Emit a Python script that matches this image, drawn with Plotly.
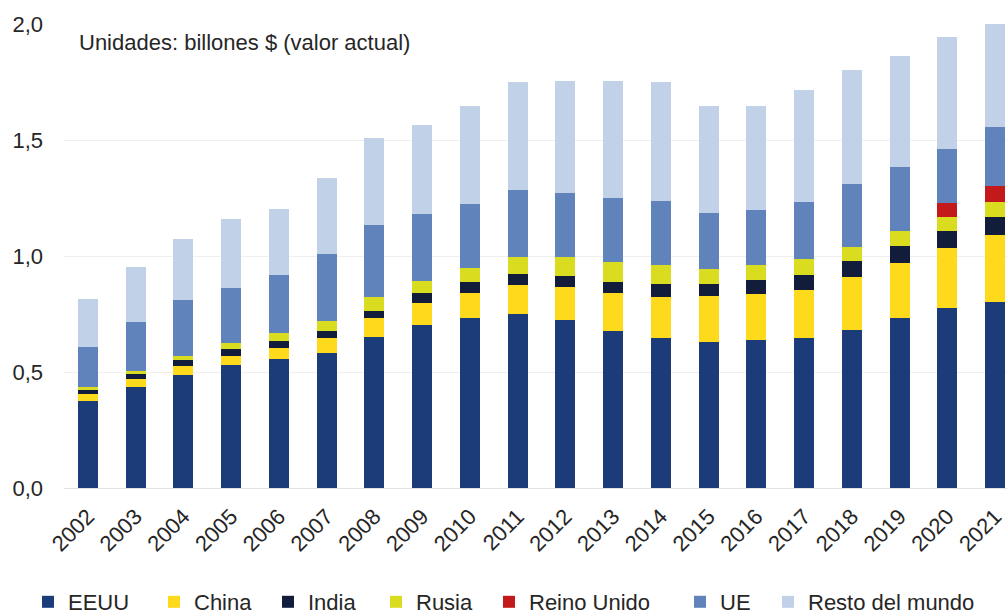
import plotly.graph_objects as go

years = [str(y) for y in range(2002, 2022)]

eeuu = [0.375, 0.437, 0.488, 0.529, 0.556, 0.583, 0.652, 0.703, 0.734, 0.749,
        0.723, 0.678, 0.645, 0.631, 0.638, 0.645, 0.680, 0.731, 0.776, 0.800]
china = [0.029, 0.032, 0.038, 0.041, 0.049, 0.064, 0.079, 0.096, 0.105, 0.125,
         0.143, 0.161, 0.180, 0.195, 0.197, 0.208, 0.231, 0.240, 0.257, 0.292]
india = [0.018, 0.021, 0.024, 0.028, 0.027, 0.031, 0.033, 0.040, 0.048, 0.048,
         0.048, 0.048, 0.054, 0.055, 0.060, 0.066, 0.067, 0.073, 0.075, 0.077]
rusia = [0.013, 0.014, 0.019, 0.026, 0.035, 0.042, 0.059, 0.053, 0.060, 0.072,
         0.083, 0.088, 0.084, 0.064, 0.066, 0.068, 0.062, 0.065, 0.061, 0.065]
reino_unido = [0, 0, 0, 0, 0, 0, 0, 0, 0, 0,
               0, 0, 0, 0, 0, 0, 0, 0, 0.061, 0.069]
ue = [0.173, 0.210, 0.241, 0.238, 0.252, 0.287, 0.311, 0.290, 0.278, 0.290,
      0.273, 0.274, 0.275, 0.239, 0.239, 0.247, 0.272, 0.275, 0.230, 0.255]
resto = [0.207, 0.237, 0.263, 0.296, 0.285, 0.328, 0.375, 0.381, 0.420, 0.465,
         0.486, 0.504, 0.513, 0.463, 0.447, 0.482, 0.491, 0.477, 0.484, 0.441]

series = [
    ("EEUU", eeuu, "#1b3b79"),
    ("China", china, "#ffd91c"),
    ("India", india, "#121d3b"),
    ("Rusia", rusia, "#d9dc1f"),
    ("Reino Unido", reino_unido, "#c4191b"),
    ("UE", ue, "#5f83ba"),
    ("Resto del mundo", resto, "#c1d1e8"),
]

y_ticks = [0, 0.5, 1.0, 1.5, 2.0]

# legend entry positions (px from the left of the page)
legend_x_px = [28, 154, 268, 376, 489, 680, 768]

font = "Liberation Sans, Arial, sans-serif"

fig = go.Figure()
legend_layouts = {}
for i, (name, vals, col) in enumerate(series):
    key = "legend" if i == 0 else f"legend{i + 1}"
    fig.add_trace(go.Bar(x=years, y=vals, name=name, legend=key,
                         marker=dict(color=col, line=dict(width=0))))
    legend_layouts[key] = dict(orientation="h", xref="container", yref="container",
                               x=legend_x_px[i] / 1007, y=1 - 602 / 616,
                               xanchor="left", yanchor="middle",
                               font=dict(size=22, color="#262626", family=font),
                               itemwidth=30, bgcolor="rgba(0,0,0,0)")

fig.update_layout(
    barmode="stack",
    bargap=0.58,
    width=1007, height=616,
    margin=dict(l=64, r=0, t=24, b=128, autoexpand=False),
    paper_bgcolor="white", plot_bgcolor="white",
    separators=", ",
    font=dict(family=font, size=22, color="#262626"),
    showlegend=True,
    xaxis=dict(type="category", range=[-0.5, 19.25], tickangle=-45,
               tickfont=dict(size=22, color="#262626"), showgrid=False,
               showline=True, linecolor="#e3e3e3", linewidth=1, ticks="",
               ticklabelstandoff=6, automargin=False),
    yaxis=dict(range=[0, 2.0], tickvals=y_ticks, tickformat=".1f",
               tickfont=dict(size=22, color="#262626"),
               showgrid=True, gridcolor="#efefef", gridwidth=1,
               zeroline=False, showline=False, ticks="", ticklabelstandoff=20,
               automargin=False),
    annotations=[dict(text="Unidades: billones $ (valor actual)", xref="paper", yref="paper",
                      x=0.0138, y=0.961, xanchor="left", yanchor="middle", showarrow=False,
                      font=dict(size=22, color="#262626", family=font))],
    **legend_layouts,
)

fig.write_html("out.html",
               config={"displayModeBar": False},
               post_script="document.body.style.margin='0px';document.body.style.overflow='hidden';")
